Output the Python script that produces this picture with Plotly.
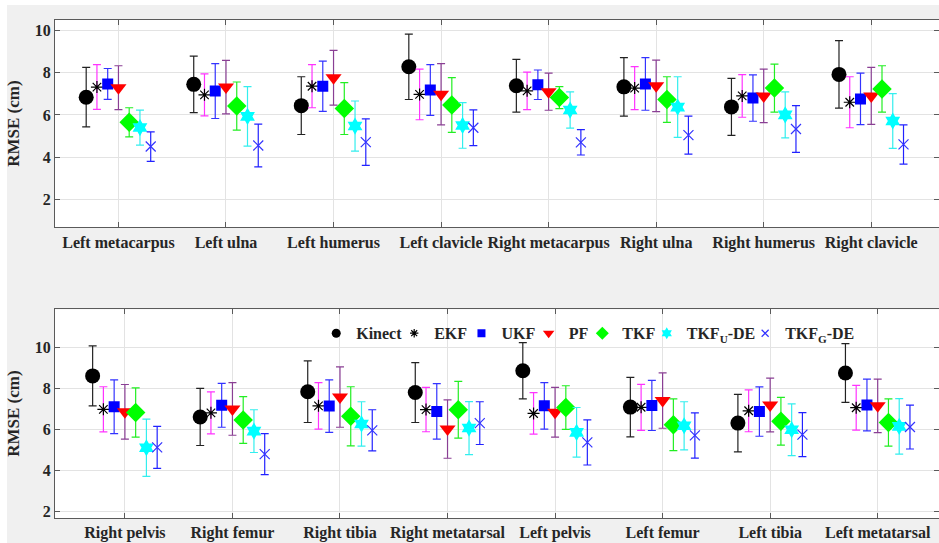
import plotly.graph_objects as go
from plotly.subplots import make_subplots

upper_categories = ["Left metacarpus", "Left ulna", "Left humerus", "Left clavicle",
                    "Right metacarpus", "Right ulna", "Right humerus", "Right clavicle"]
lower_categories = ["Right pelvis", "Right femur", "Right tibia", "Right metatarsal",
                    "Left pelvis", "Left femur", "Left tibia", "Left metatarsal"]

method_names = ["Kinect", "EKF", "UKF", "PF", "TKF", "TKF<sub>U</sub>-DE", "TKF<sub>G</sub>-DE"]
y_ticks = [2, 4, 6, 8, 10]

# Upper panel (mean RMSE, std) in cm
upper_kinect_mean = [6.84, 7.45, 6.44, 8.28, 7.38, 7.33, 6.38, 7.92]
upper_kinect_std = [1.41, 1.34, 1.37, 1.55, 1.25, 1.39, 1.35, 1.60]
upper_ekf_mean = [7.32, 6.95, 7.36, 6.97, 7.14, 7.27, 6.90, 6.60]
upper_ekf_std = [1.06, 1.00, 1.02, 1.20, 0.89, 1.02, 1.01, 1.21]
upper_ukf_mean = [7.47, 7.13, 7.36, 7.18, 7.43, 7.47, 6.80, 6.76]
upper_ukf_std = [0.73, 1.30, 1.19, 1.20, 0.70, 1.25, 1.10, 1.22]
upper_pf_mean = [7.29, 7.32, 7.76, 6.98, 7.10, 7.38, 6.90, 6.90]
upper_pf_std = [1.04, 1.27, 1.30, 1.45, 0.88, 1.22, 1.27, 1.35]
upper_tkf_mean = [5.65, 6.42, 6.30, 6.47, 6.82, 6.73, 7.27, 7.23]
upper_tkf_std = [0.69, 1.14, 1.23, 1.30, 0.52, 1.08, 1.14, 1.10]
upper_tkfu_mean = [5.40, 5.93, 5.47, 5.50, 6.23, 6.37, 6.00, 5.71]
upper_tkfu_std = [0.83, 1.41, 1.19, 1.08, 0.86, 1.44, 1.09, 1.30]
upper_tkfg_mean = [4.50, 4.55, 4.71, 5.39, 4.70, 5.04, 5.33, 4.60]
upper_tkfg_std = [0.70, 1.01, 1.10, 0.85, 0.60, 0.90, 1.11, 0.93]

# Lower panel
lower_kinect_mean = [8.61, 6.61, 7.84, 7.80, 8.86, 7.09, 6.31, 8.75]
lower_kinect_std = [1.46, 1.39, 1.50, 1.46, 1.37, 1.45, 1.40, 1.43]
lower_ekf_mean = [6.98, 6.81, 7.15, 6.97, 6.78, 7.08, 6.91, 7.06]
lower_ekf_std = [1.10, 1.02, 1.13, 1.08, 1.01, 1.12, 1.02, 1.09]
lower_ukf_mean = [7.11, 7.18, 7.14, 6.88, 7.15, 7.17, 6.87, 7.19]
lower_ukf_std = [1.31, 1.07, 1.28, 1.35, 1.13, 1.22, 1.20, 1.26]
lower_pf_mean = [6.86, 7.00, 7.58, 6.02, 6.84, 7.41, 7.19, 7.15]
lower_pf_std = [1.33, 1.28, 1.47, 1.42, 1.21, 1.35, 1.31, 1.30]
lower_tkf_mean = [6.83, 6.46, 6.64, 6.96, 7.07, 6.23, 6.40, 6.34]
lower_tkf_std = [1.20, 1.14, 1.44, 1.38, 1.06, 1.26, 1.16, 1.15]
lower_tkfu_mean = [5.11, 5.92, 6.27, 6.07, 5.86, 6.18, 5.99, 6.15]
lower_tkfu_std = [1.39, 1.04, 1.08, 1.29, 1.21, 1.17, 1.26, 1.35]
lower_tkfg_mean = [5.13, 4.80, 5.96, 6.31, 5.37, 5.71, 5.75, 6.12]
lower_tkfg_std = [1.02, 1.00, 1.00, 1.04, 1.10, 1.10, 1.07, 1.07]

upper_means = [upper_kinect_mean, upper_ekf_mean, upper_ukf_mean, upper_pf_mean,
               upper_tkf_mean, upper_tkfu_mean, upper_tkfg_mean]
upper_stds = [upper_kinect_std, upper_ekf_std, upper_ukf_std, upper_pf_std,
              upper_tkf_std, upper_tkfu_std, upper_tkfg_std]
lower_means = [lower_kinect_mean, lower_ekf_mean, lower_ukf_mean, lower_pf_mean,
               lower_tkf_mean, lower_tkfu_mean, lower_tkfg_mean]
lower_stds = [lower_kinect_std, lower_ekf_std, lower_ukf_std, lower_pf_std,
              lower_tkf_std, lower_tkfu_std, lower_tkfg_std]

# styles: (symbol, marker color, size, errorbar color, legend size)
styles = [
    ("circle", "black", 15, "#222222", 9),
    ("asterisk-open", "black", 10, "#ff33ff", 7),
    ("square", "#0000ff", 11, "#3333ff", 8),
    ("triangle-down", "#ff0000", 14, "#8a3f94", 10),
    ("diamond", "#00ff00", 15, "#22ee22", 10),
    ("hexagram", "#00ffff", 13, "#33eeee", 9),
    ("x-thin-open", "#3333ff", 10, "#2222ff", 7),
]
offsets = [-0.3, -0.2, -0.1, 0.0, 0.1, 0.2, 0.3]
# horizontal positions (paper fraction) of each legend entry
legend_x = [0.2955, 0.3837, 0.4598, 0.5358, 0.5965, 0.6694, 0.7807]

fig = make_subplots(rows=2, cols=1, vertical_spacing=0.1)

def add_panel(row, means, stds):
    for k in range(7):
        sym, mc, sz, ec, _ = styles[k]
        xs = [i + 1 + offsets[k] for i in range(len(means[k]))]
        fig.add_trace(go.Scatter(
            x=xs, y=means[k], mode="markers", name=method_names[k],
            legendgroup=str(k), showlegend=False,
            marker=dict(symbol=sym, color=mc, size=sz,
                        line=dict(color=mc, width=1.2 if "open" in sym else 0)),
            error_y=dict(type="data", array=stds[k], color=ec, thickness=1.2, width=4),
        ), row=row, col=1)

add_panel(1, upper_means, upper_stds)
add_panel(2, lower_means, lower_stds)

legend_font = dict(family="Liberation Serif", size=16, color="#262626", weight="bold")
legend_layouts = {}
for k in range(7):
    sym, mc, sz, ec, lsz = styles[k]
    lname = "legend" if k == 0 else f"legend{k + 1}"
    fig.add_trace(go.Scatter(
        x=[None], y=[None], mode="markers", name=method_names[k], legendgroup=str(k),
        showlegend=True, legend=lname,
        marker=dict(symbol=sym, color=mc, size=lsz,
                    line=dict(color=mc, width=1.2 if "open" in sym else 0)),
    ), row=2, col=1)
    legend_layouts[lname] = dict(orientation="h", x=legend_x[k], y=0.405,
                                 xanchor="left", yanchor="top",
                                 bgcolor="rgba(255,255,255,0)", borderwidth=0,
                                 font=legend_font, itemwidth=30)

tick_font = dict(family="Liberation Serif", size=16, color="#262626", weight="bold")
axis_common = dict(showline=True, linecolor="#5a5a5a", linewidth=1.2, mirror="ticks",
                   ticks="inside", ticklen=5, tickcolor="#5a5a5a",
                   showgrid=True, gridcolor="#e3e3e3", gridwidth=1, zeroline=False,
                   tickfont=tick_font)

fig.update_xaxes(**axis_common)
fig.update_yaxes(**axis_common)

fig.update_xaxes(row=1, col=1, range=[0.41, 8.63], tickvals=list(range(1, 9)),
                 ticktext=upper_categories, domain=[0, 1])
fig.update_xaxes(row=2, col=1, range=[0.35, 8.57], tickvals=list(range(1, 9)),
                 ticktext=lower_categories, domain=[0, 1])
title_font = dict(family="Liberation Serif", size=17, color="#262626", weight="bold")
fig.update_yaxes(row=1, col=1, range=[0.67, 10.5], tickvals=y_ticks, domain=[0.5837, 1.0],
                 title=dict(text="RMSE (cm)", font=title_font, standoff=10))
fig.update_yaxes(row=2, col=1, range=[1.69, 11.85], tickvals=y_ticks, domain=[0.0, 0.419],
                 title=dict(text="RMSE (cm)", font=title_font, standoff=10))

fig.update_layout(
    width=939, height=543,
    margin=dict(l=55, r=0, t=20, b=25),
    paper_bgcolor="#f0f0f0", plot_bgcolor="white",
    showlegend=True,
    shapes=[
        dict(type="rect", xref="paper", yref="paper", x0=-55/884, x1=-48/884, y0=-0.1, y1=1.1,
             fillcolor="white", line=dict(width=0), layer="below"),
        dict(type="rect", xref="paper", yref="paper", x0=-0.1, x1=1.1, y0=1 + 15/498, y1=1 + 21/498,
             fillcolor="white", line=dict(width=0), layer="below"),
    ],
    **legend_layouts,
)

fig.write_html("out.html", config={"displayModeBar": False},
               post_script="document.body.style.margin='0';document.body.style.padding='0';")
